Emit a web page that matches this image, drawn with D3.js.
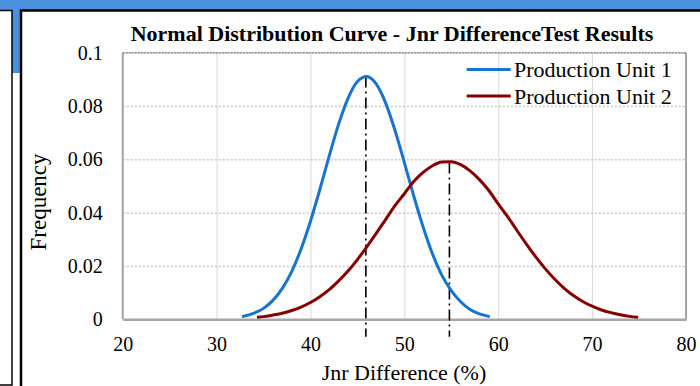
<!DOCTYPE html>
<meta charset="utf-8">
<html>
<script src="https://d3js.org/d3.v7.min.js"></script>
<style>
    body { margin: 0; background: #fff; }
    text { font-family: "Liberation Serif", "Times New Roman", serif; fill: #000; }
</style>
<body>
<div id="my_dataviz"></div>
<script>
    // values
    var xTicks = [20, 30, 40, 50, 60, 70, 80];
    var yTicks = [0, 0.02, 0.04, 0.06, 0.08, 0.1];
    var yTickLabels = ["0", "0.02", "0.04", "0.06", "0.08", "0.1"];
    var seriesNames = ["Production Unit 1", "Production Unit 2"];

    var unit1X = [32.7, 34, 35, 36, 37, 38, 39, 40, 41, 42, 43, 44, 45, 46, 47, 48, 49, 50, 51, 52, 53, 54, 55, 56, 57, 58, 59.1];
    var unit1Y = [0.0010, 0.0023, 0.0041, 0.0071, 0.0116, 0.0179, 0.0264, 0.0368, 0.0487, 0.0613, 0.0732, 0.0829, 0.0892, 0.0911, 0.0883, 0.0812, 0.0709, 0.0588, 0.0463, 0.0346, 0.0245, 0.0165, 0.0108, 0.0066, 0.0037, 0.0020, 0.0010];

    var unit2X = [34.3, 35, 36, 37, 38, 39, 40, 41, 42, 43, 44, 45, 46, 47, 48, 49, 50, 51, 52, 53, 54, 55, 56, 57, 58, 59, 60, 61, 62, 63, 64, 65, 66, 67, 68, 69, 70, 71, 72, 73, 74, 74.9];
    var unit2Y = [0.0008, 0.0010, 0.0016, 0.0023, 0.0033, 0.0046, 0.0063, 0.0085, 0.0111, 0.0144, 0.0181, 0.0224, 0.0272, 0.0322, 0.0374, 0.0426, 0.0471, 0.0517, 0.0551, 0.0576, 0.0590, 0.0591, 0.0580, 0.0557, 0.0524, 0.0483, 0.0433, 0.0385, 0.0333, 0.0282, 0.0234, 0.0190, 0.0151, 0.0117, 0.0089, 0.0067, 0.0049, 0.0035, 0.0025, 0.0017, 0.0011, 0.0008];

    // mean markers (dash-dot drop lines): x, top value
    var meanX = [45.9, 54.8];
    var meanTop = [0.0911, 0.0588];

    var colors = ["#1874cd", "#850000"];

    var margin = { top: 52.7, right: 14, bottom: 66.7, left: 122.7 },
        width = 700 - margin.left - margin.right,
        height = 386 - margin.top - margin.bottom;

    var root = d3.select("#my_dataviz")
        .append("svg")
        .attr("width", 700)
        .attr("height", 386);

    // page frame around the chart
    root.append("rect").attr("x", 0).attr("y", 0).attr("width", 700).attr("height", 10).attr("fill", "#4a90dc");
    root.append("rect").attr("x", 12).attr("y", 0).attr("width", 9).attr("height", 73).attr("fill", "#4a90dc");
    root.append("rect").attr("x", -5).attr("y", 10.5).attr("width", 17).attr("height", 374.5)
        .attr("fill", "#fff").attr("stroke", "#000").attr("stroke-width", 1.5);
    root.append("rect").attr("x", 21).attr("y", 10.5).attr("width", 700).attr("height", 400)
        .attr("fill", "#fff").attr("stroke", "#000").attr("stroke-width", 2.5);

    var svg = root.append("g")
        .attr("transform", "translate(" + margin.left + "," + margin.top + ")");

    var x = d3.scaleLinear().domain([20, 80]).range([0, width]);
    var y = d3.scaleLinear().domain([0, 0.1]).range([height, 0]);

    // vertical gridlines
    svg.append("g")
        .attr("transform", "translate(0," + height + ")")
        .call(d3.axisBottom(x).tickValues(xTicks).tickSize(-height).tickFormat(""))
        .call(function (g) { g.select(".domain").remove(); })
        .selectAll("line").attr("stroke", "#d9d9d9").attr("stroke-width", 1);

    // horizontal gridlines (dotted)
    svg.append("g")
        .call(d3.axisLeft(y).tickValues(yTicks.slice(1)).tickSize(-width).tickFormat(""))
        .call(function (g) { g.select(".domain").remove(); })
        .selectAll("line").attr("stroke", "#c6c6c6").attr("stroke-width", 1.5)
        .attr("stroke-dasharray", "2,2");

    // plot border
    svg.append("line").attr("x1", 0).attr("x2", 0).attr("y1", 0).attr("y2", height)
        .attr("stroke", "#a6a6a6").attr("stroke-width", 2);
    svg.append("line").attr("x1", width).attr("x2", width).attr("y1", 0).attr("y2", height)
        .attr("stroke", "#8c8c8c").attr("stroke-width", 1.5);
    svg.append("line").attr("x1", 0).attr("x2", width).attr("y1", 0).attr("y2", 0)
        .attr("stroke", "#8c8c8c").attr("stroke-width", 1.5).attr("stroke-dasharray", "2,1");

    // X axis
    var xAxis = svg.append("g")
        .attr("transform", "translate(0," + height + ")")
        .call(d3.axisBottom(x).tickValues(xTicks).tickSize(0).tickPadding(18));
    xAxis.select(".domain").attr("stroke", "#a6a6a6").attr("stroke-width", 2.5);
    xAxis.selectAll("text").style("font-size", "20px").style("font-family", "Liberation Serif");

    // Y axis
    var yAxis = svg.append("g")
        .call(d3.axisLeft(y).tickValues(yTicks).tickSize(0).tickPadding(20)
            .tickFormat(function (d, i) { return yTickLabels[i]; }));
    yAxis.select(".domain").remove();
    yAxis.selectAll("text").style("font-size", "20px").style("font-family", "Liberation Serif");

    // dash-dot mean lines
    svg.selectAll(".mean")
        .data(meanX).enter().append("line")
        .attr("class", "mean")
        .attr("x1", function (d) { return x(d); })
        .attr("x2", function (d) { return x(d); })
        .attr("y1", function (d, i) { return y(meanTop[i]); })
        .attr("y2", y(-0.0065))
        .attr("stroke", "#000")
        .attr("stroke-width", 1.6)
        .attr("stroke-dasharray", "11,4,2,4");

    // curves
    var line = d3.line()
        .x(function (d) { return x(d[0]); })
        .y(function (d) { return y(d[1]); })
        .curve(d3.curveMonotoneX);

    var series = [d3.zip(unit1X, unit1Y), d3.zip(unit2X, unit2Y)];
    svg.selectAll(".curve")
        .data(series).enter().append("path")
        .attr("class", "curve")
        .attr("fill", "none")
        .attr("stroke", function (d, i) { return colors[i]; })
        .attr("stroke-width", 3)
        .attr("d", line);

    // title
    root.append("text")
        .attr("x", 392)
        .attr("y", 41)
        .style("text-anchor", "middle")
        .style("font-size", "22px")
        .style("font-weight", "bold")
        .text("Normal Distribution Curve - Jnr DifferenceTest Results");

    // legend
    var legend = root.append("g");
    seriesNames.forEach(function (name, i) {
        var ly = 69.5 + i * 26.5;
        legend.append("line")
            .attr("x1", 466.7).attr("x2", 510.7).attr("y1", ly).attr("y2", ly)
            .attr("stroke", colors[i]).attr("stroke-width", 3);
        legend.append("text")
            .attr("x", 514).attr("y", ly).attr("dy", "0.35em")
            .style("font-size", "22px")
            .text(name);
    });

    // axis labels
    root.append("text")
        .attr("x", 404)
        .attr("y", 380)
        .style("text-anchor", "middle")
        .style("font-size", "22px")
        .text("Jnr Difference (%)");

    root.append("text")
        .attr("transform", "translate(46,202) rotate(-90)")
        .style("text-anchor", "middle")
        .style("font-size", "23px")
        .text("Frequency");
</script>
</body>
</html>
